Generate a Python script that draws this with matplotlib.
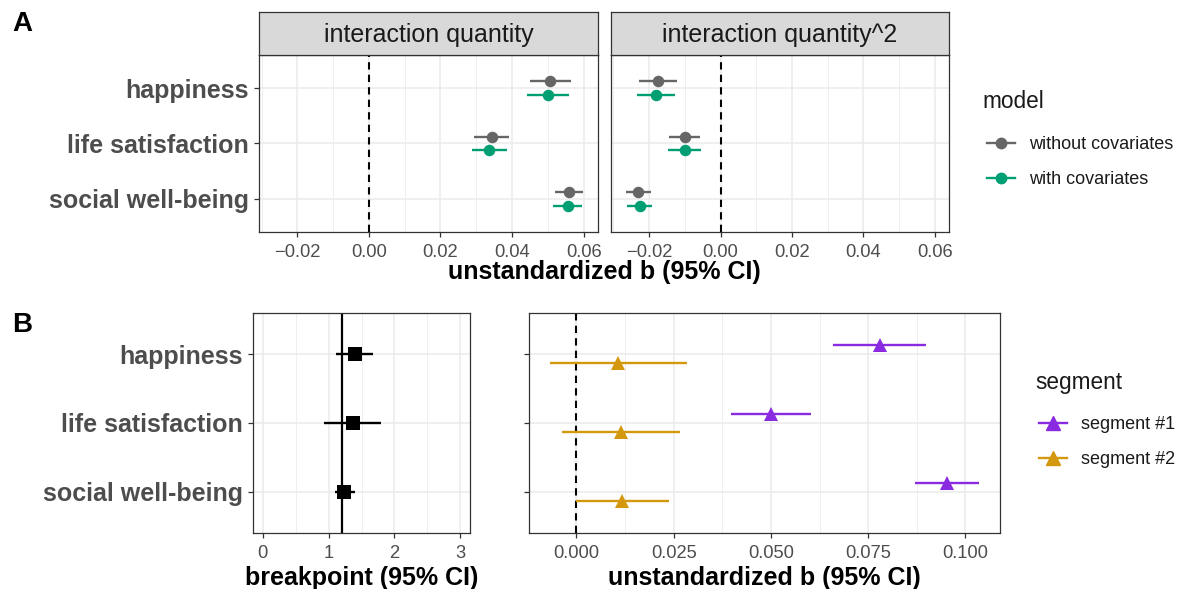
import matplotlib
matplotlib.use("Agg")
import matplotlib.pyplot as plt
from matplotlib.lines import Line2D
from matplotlib.ticker import FixedLocator
import numpy as np

plt.rcParams['font.family'] = ['Liberation Sans', 'DejaVu Sans']

# ---------------- data ----------------
categories = ["happiness", "life satisfaction", "social well-being"]
facets = ["interaction quantity", "interaction quantity^2"]

# Panel A: facet 1 (linear term)
lin_wo_est = [0.0506, 0.0343, 0.0558]
lin_wo_lo = [0.0450, 0.0293, 0.0520]
lin_wo_hi = [0.0564, 0.0392, 0.0597]
lin_w_est = [0.0501, 0.0336, 0.0556]
lin_w_lo = [0.0442, 0.0287, 0.0515]
lin_w_hi = [0.0560, 0.0386, 0.0596]
# Panel A: facet 2 (quadratic term)
quad_wo_est = [-0.0175, -0.0101, -0.0230]
quad_wo_lo = [-0.0229, -0.0145, -0.0264]
quad_wo_hi = [-0.0123, -0.0058, -0.0195]
quad_w_est = [-0.0180, -0.0101, -0.0227]
quad_w_lo = [-0.0235, -0.0146, -0.0261]
quad_w_hi = [-0.0127, -0.0056, -0.0191]

model_labels = ["without covariates", "with covariates"]
model_colors = ["#666666", "#009E73"]

# Panel B: breakpoints
bp_est = [1.40, 1.37, 1.24]
bp_lo = [1.11, 0.93, 1.09]
bp_hi = [1.68, 1.79, 1.40]
bp_ref = 1.21

# Panel B: segment slopes
seg1_est = [0.0780, 0.0501, 0.0953]
seg1_lo = [0.0660, 0.0398, 0.0870]
seg1_hi = [0.0900, 0.0602, 0.1035]
seg2_est = [0.0107, 0.0114, 0.0117]
seg2_lo = [-0.0069, -0.0036, -0.0002]
seg2_hi = [0.0284, 0.0266, 0.0238]

segment_labels = ["segment #1", "segment #2"]
segment_colors = ["#8A2BE2", "#D4980F"]

a_ticks = [-0.02, 0.00, 0.02, 0.04, 0.06]
a_ticklabels = ["\u22120.02", "0.00", "0.02", "0.04", "0.06"]
b1_ticks = [0, 1, 2, 3]
b2_ticks = [0.000, 0.025, 0.050, 0.075, 0.100]
b2_ticklabels = ["0.000", "0.025", "0.050", "0.075", "0.100"]

# ---------------- figure ----------------
W, H = 1184, 589
fig = plt.figure(figsize=(W / 100, H / 100), dpi=100)


def ax_at(x0, y0, x1, y1, **kw):
    return fig.add_axes([x0 / W, 1 - y1 / H, (x1 - x0) / W, (y1 - y0) / H], **kw)


GRID = "#EBEBEB"
BORDER = "#333333"
TICKC = "#4D4D4D"
ypos = np.arange(len(categories))
DODGE = 0.125


def style(ax, xlim, major, minor, ylabels=True, yticks=True):
    ax.set_xlim(*xlim)
    ax.set_ylim(len(categories) - 1 + 0.6, -0.6)
    ax.set_axisbelow(True)
    ax.xaxis.set_major_locator(FixedLocator(major))
    ax.xaxis.set_minor_locator(FixedLocator(minor))
    ax.grid(True, which="major", color=GRID, lw=1.1)
    ax.grid(True, which="minor", axis="x", color=GRID, lw=0.55)
    for s in ax.spines.values():
        s.set_color(BORDER)
        s.set_linewidth(0.9)
    ax.tick_params(which="minor", length=0)
    ax.tick_params(which="major", length=3.5, width=0.9, color=BORDER,
                   labelcolor=TICKC, labelsize=13.2, pad=4)
    ax.tick_params(axis="x", which="major", pad=5.5)
    ax.set_yticks(ypos)
    if ylabels:
        ax.set_yticklabels(categories, fontsize=18, fontweight="bold", color=TICKC)
    else:
        ax.set_yticklabels([])
    if not yticks:
        ax.tick_params(axis="y", length=0)


def pointrange(ax, est, lo, hi, offset, color, marker, ms, lw=1.7):
    y = ypos + offset
    ax.hlines(y, lo, hi, color=color, lw=lw, zorder=3)
    ax.plot(est, y, ls="none", marker=marker, ms=ms, color=color,
            markeredgewidth=0, zorder=4)


# Panel A
a_xlim = (-0.0307, 0.064)
a_minor = [-0.03, -0.01, 0.01, 0.03, 0.05]
a_axes = [ax_at(259, 55, 598, 232), ax_at(611, 55, 949, 232)]
a_data = [
    [(lin_wo_est, lin_wo_lo, lin_wo_hi), (lin_w_est, lin_w_lo, lin_w_hi)],
    [(quad_wo_est, quad_wo_lo, quad_wo_hi), (quad_w_est, quad_w_lo, quad_w_hi)],
]
for i, ax in enumerate(a_axes):
    style(ax, a_xlim, a_ticks, a_minor, ylabels=(i == 0), yticks=(i == 0))
    ax.set_xticklabels(a_ticklabels)
    ax.axvline(0, color="black", ls=(0, (3.5, 2.5)), lw=1.5, zorder=2)
    for j, (est, lo, hi) in enumerate(a_data[i]):
        off = -DODGE if j == 0 else DODGE
        pointrange(ax, est, lo, hi, off, model_colors[j], "o", 8.3)
    # strip
    bb = ax.get_position()
    sax = fig.add_axes([bb.x0, 1 - 55 / H, bb.width, (55 - 12) / H])
    sax.set_facecolor("#D9D9D9")
    sax.set_xticks([])
    sax.set_yticks([])
    for s in sax.spines.values():
        s.set_color(BORDER)
        s.set_linewidth(0.9)
    sax.text(0.5, 0.47, facets[i], ha="center", va="center", fontsize=18,
             color="#1A1A1A", transform=sax.transAxes)

fig.text(604 / W, 1 - 272 / H, "unstandardized b (95% CI)", ha="center",
         va="center", fontsize=18, fontweight="bold", color="black")

# Panel B left: breakpoints
b1 = ax_at(253, 313, 470, 533)
style(b1, (-0.15, 3.15), b1_ticks, [0.5, 1.5, 2.5])
b1.set_xticklabels([str(t) for t in b1_ticks])
b1.axvline(bp_ref, color="black", lw=1.6, zorder=2)
pointrange(b1, bp_est, bp_lo, bp_hi, 0, "black", "s", 9.5)
b1.set_xlabel("breakpoint (95% CI)", fontsize=18, fontweight="bold",
              color="black", labelpad=2.5)

# Panel B right: segments
b2 = ax_at(529, 313, 1000, 533)
style(b2, (-0.0122, 0.1089), b2_ticks,
      [-0.0125, 0.0125, 0.0375, 0.0625, 0.0875], ylabels=False)
b2.set_xticklabels(b2_ticklabels)
b2.axvline(0, color="black", ls=(0, (3.5, 2.5)), lw=1.5, zorder=2)
seg_data = [(seg1_est, seg1_lo, seg1_hi), (seg2_est, seg2_lo, seg2_hi)]
for j, (est, lo, hi) in enumerate(seg_data):
    off = -0.13 if j == 0 else 0.13
    pointrange(b2, est, lo, hi, off, segment_colors[j], "^", 10.5)
b2.set_xlabel("unstandardized b (95% CI)", fontsize=18, fontweight="bold",
              color="black", labelpad=2.5)

# Panel letters
fig.text(12 / W, 1 - 24 / H, "A", fontsize=20, fontweight="bold", va="center", ha="left")
fig.text(12 / W, 1 - 325 / H, "B", fontsize=20, fontweight="bold", va="center", ha="left")


# Legends (title drawn as text, entries as legend)
def make_legend(handles, labels, title, title_xy, anchor_xy):
    fig.text(title_xy[0] / W, 1 - title_xy[1] / H, title, fontsize=16.3,
             color="#1A1A1A", ha="left", va="center")
    leg = fig.legend(handles, labels, loc="upper left",
                     bbox_to_anchor=(anchor_xy[0] / W, 1 - anchor_xy[1] / H),
                     frameon=False, fontsize=13,
                     handlelength=1.55, handletextpad=0.8, labelspacing=1.02,
                     borderpad=0, borderaxespad=0)
    for t in leg.get_texts():
        t.set_color("#1A1A1A")
    return leg


h_model = [Line2D([], [], color=c, marker="o", ms=7.5, lw=1.7) for c in model_colors]
make_legend(h_model, model_labels, "model", (982, 102), (987, 136))

h_seg = [Line2D([], [], color=c, marker="^", ms=10, lw=1.7) for c in segment_colors]
make_legend(h_seg, segment_labels, "segment", (1035, 382), (1039, 416))

fig.savefig("out.png", dpi=100, facecolor="white")
